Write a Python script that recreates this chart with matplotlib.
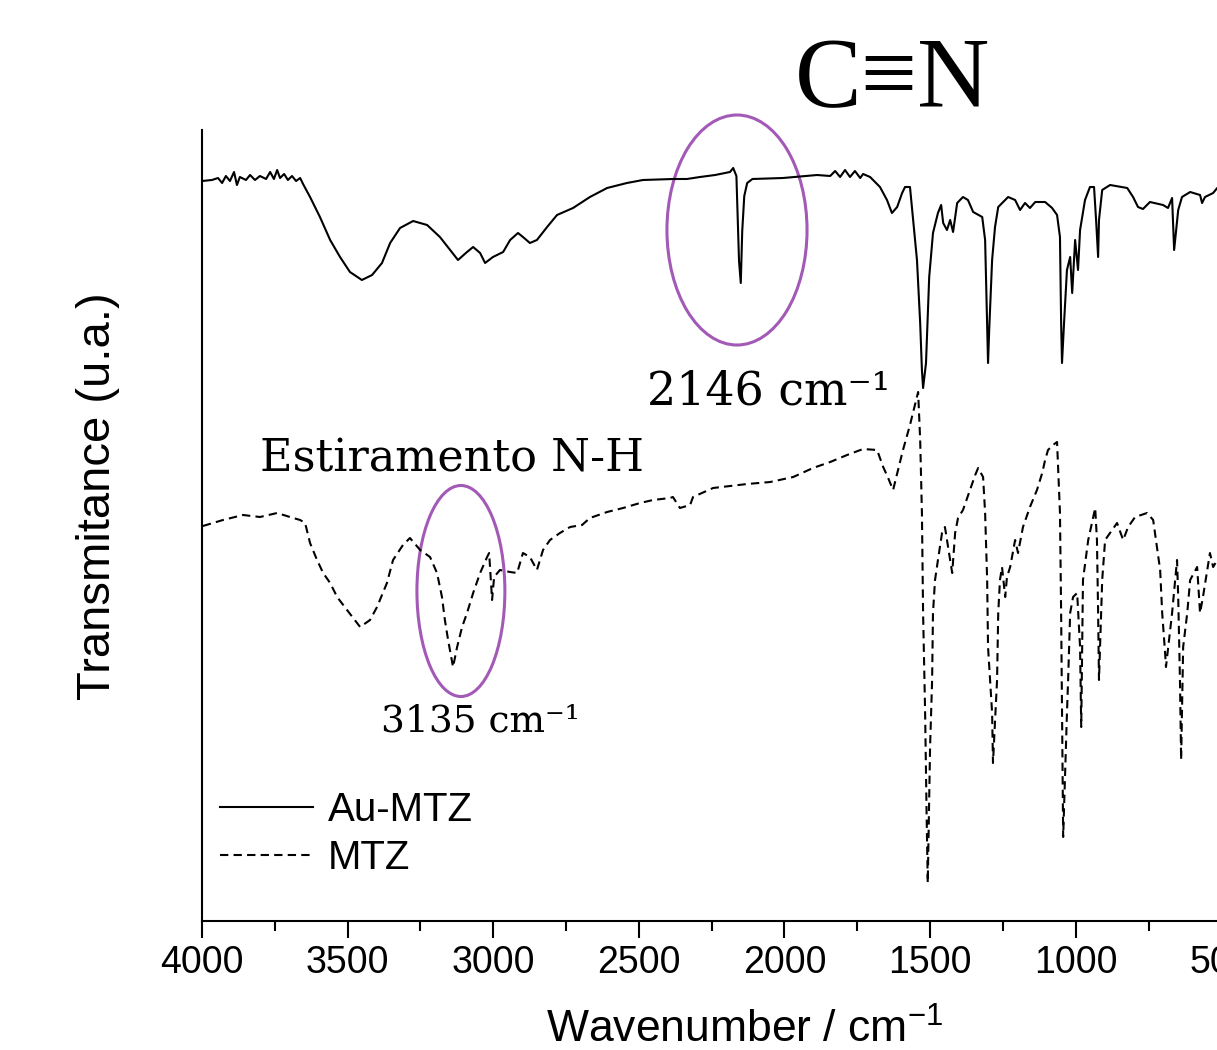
import numpy as np
import matplotlib
matplotlib.use("Agg")
import matplotlib.pyplot as plt
from matplotlib.patches import Ellipse

plt.rcParams['font.family'] = ['Liberation Sans', 'DejaVu Sans']
plt.rcParams['mathtext.default'] = 'regular'

# Au-MTZ spectrum (wavenumber / cm-1, transmittance a.u.)
wn_au = [4000, 3966, 3945, 3931, 3918, 3904, 3890, 3880, 3870, 3849, 3835, 3818,
         3801, 3780, 3766, 3753, 3742, 3732, 3718, 3705, 3691, 3677, 3663, 3653,
         3629, 3595, 3560, 3526, 3492, 3451, 3416, 3382, 3354, 3320, 3275, 3227,
         3183, 3148, 3121, 3090, 3069, 3045, 3028, 3001, 2966, 2942, 2915, 2898,
         2874, 2850, 2815, 2781, 2726, 2668, 2609, 2541, 2486, 2383, 2335, 2290,
         2238, 2187, 2176, 2165, 2156, 2150, 2145, 2138, 2128, 2110, 2005, 1888,
         1843, 1826, 1809, 1792, 1775, 1758, 1740, 1730, 1706, 1672, 1648, 1631,
         1613, 1596, 1586, 1569, 1558, 1545, 1534, 1528, 1524, 1514, 1503, 1490,
         1473, 1462, 1455, 1442, 1431, 1421, 1407, 1387, 1370, 1352, 1321, 1311,
         1304, 1301, 1297, 1287, 1277, 1266, 1232, 1208, 1191, 1174, 1157, 1139,
         1105, 1081, 1064, 1054, 1050, 1047, 1040, 1030, 1019, 1012, 1002, 992,
         985, 968, 951, 937, 930, 923, 920, 909, 882, 823, 803, 786, 769, 745,
         700, 683, 669, 662, 655, 648, 635, 607, 573, 566, 556, 528, 514, 480]
t_au = [74.0, 74.1, 74.3, 73.8, 74.5, 74.0, 74.9, 73.6, 74.4, 74.1, 74.6, 74.1,
        74.5, 74.2, 74.9, 74.2, 75.1, 74.3, 74.7, 74.1, 74.5, 74.0, 74.3, 73.7,
        72.4, 70.4, 68.1, 66.4, 64.9, 64.1, 64.6, 65.8, 67.8, 69.3, 70.0, 69.6,
        68.4, 67.1, 66.1, 66.9, 67.4, 66.8, 65.8, 66.4, 66.9, 68.1, 68.8, 68.4,
        67.8, 68.1, 69.4, 70.6, 71.3, 72.4, 73.3, 73.8, 74.1, 74.2, 74.2, 74.4,
        74.6, 74.9, 75.3, 74.5, 66.0, 63.8, 69.0, 72.5, 73.8, 74.2, 74.3, 74.6,
        74.5, 75.0, 74.4, 75.1, 74.4, 75.0, 74.3, 74.7, 74.4, 73.4, 72.1, 70.8,
        71.4, 72.8, 73.4, 73.4, 70.1, 66.1, 59.8, 55.1, 53.3, 55.8, 64.4, 68.8,
        70.8, 71.6, 69.8, 69.1, 70.1, 68.9, 71.8, 72.4, 72.1, 70.9, 70.4, 68.1,
        59.4, 55.8, 59.1, 66.1, 69.4, 71.4, 72.4, 72.1, 71.1, 71.8, 71.3, 71.9,
        71.9, 71.3, 70.6, 68.4, 59.8, 55.8, 59.8, 65.1, 66.4, 62.8, 68.1, 65.1,
        69.1, 72.1, 73.4, 73.4, 70.1, 66.4, 70.1, 73.1, 73.6, 73.3, 72.4, 71.4,
        71.2, 71.9, 71.6, 71.3, 72.3, 67.1, 69.1, 71.1, 72.4, 72.9, 72.6, 71.8,
        72.4, 72.8, 73.3, 73.0]

# MTZ spectrum
wn_mtz = [3997, 3928, 3859, 3801, 3742, 3698, 3663, 3646, 3629, 3605, 3584, 3560,
          3536, 3502, 3457, 3423, 3399, 3365, 3344, 3310, 3286, 3251, 3217, 3193,
          3176, 3166, 3155, 3138, 3124, 3107, 3090, 3069, 3045, 3021, 3014, 3004,
          2997, 2977, 2942, 2918, 2898, 2874, 2850, 2829, 2805, 2771, 2736, 2695,
          2668, 2609, 2554, 2496, 2451, 2393, 2383, 2359, 2324, 2314, 2245, 2128,
          2049, 1970, 1902, 1843, 1785, 1730, 1682, 1661, 1644, 1627, 1610, 1593,
          1569, 1552, 1541, 1534, 1528, 1524, 1517, 1512, 1508, 1500, 1493, 1490,
          1483, 1473, 1459, 1449, 1438, 1424, 1414, 1404, 1387, 1363, 1345, 1335,
          1318, 1311, 1304, 1301, 1287, 1284, 1270, 1266, 1260, 1253, 1242, 1236,
          1225, 1208, 1198, 1181, 1157, 1133, 1115, 1105, 1095, 1078, 1064, 1054,
          1050, 1047, 1043, 1030, 1026, 1019, 1009, 995, 985, 981, 975, 957,
          933, 927, 923, 920, 909, 899, 858, 837, 820, 796, 755, 734,
          721, 710, 703, 693, 690, 669, 652, 648, 642, 638, 631, 617,
          607, 583, 573, 563, 539, 528, 514, 480]
t_mtz = [39.5, 40.1, 40.6, 40.4, 40.8, 40.4, 40.1, 39.8, 37.8, 36.1, 34.8, 33.8,
         32.4, 31.1, 29.4, 30.1, 31.4, 33.8, 36.1, 37.6, 38.3, 37.1, 36.4, 34.8,
         32.4, 30.1, 28.1, 25.4, 27.4, 29.4, 30.8, 32.8, 34.8, 36.4, 36.8, 32.1,
         34.4, 35.1, 34.9, 34.8, 36.8, 36.4, 35.1, 37.1, 38.1, 38.8, 39.4, 39.6,
         40.3, 40.9, 41.3, 41.8, 42.1, 42.3, 42.4, 41.3, 41.6, 42.4, 43.3, 43.7,
         43.9, 44.4, 45.3, 45.9, 46.6, 47.2, 47.1, 45.4, 44.3, 43.1, 45.1, 47.1,
         49.6, 51.6, 52.9, 48.1, 40.8, 30.8, 20.8, 10.8, 3.8, 17.4, 24.1, 30.8,
         34.1, 36.1, 38.8, 39.4, 37.4, 34.8, 38.8, 40.3, 41.1, 43.1, 44.6, 45.3,
         44.4, 40.8, 34.1, 27.4, 20.8, 15.8, 24.1, 30.8, 34.1, 35.4, 32.4, 34.4,
         35.4, 38.1, 36.8, 39.4, 41.4, 43.1, 44.8, 46.1, 47.1, 47.6, 47.9, 40.8,
         30.8, 20.8, 8.4, 20.8, 24.1, 30.8, 32.4, 32.8, 27.4, 19.4, 34.1, 38.1,
         41.3, 38.1, 30.8, 24.1, 34.1, 38.1, 39.8, 38.1, 39.4, 40.4, 40.8, 40.1,
         37.4, 35.1, 30.8, 26.8, 25.4, 30.8, 36.1, 32.4, 24.1, 16.1, 27.4, 30.8,
         34.1, 35.4, 30.8, 32.4, 36.8, 35.4, 36.1, 36.0]

labels = ['Au-MTZ', 'MTZ']
purple = '#A35AB6'

fig = plt.figure(figsize=(12.17, 10.5), dpi=100)
ax = fig.add_axes([202/1217, 129/1050, 1086/1217, 791/1050])

ax.plot(wn_au, t_au, color='black', lw=1.5, label=labels[0])
ax.plot(wn_mtz, t_mtz, color='black', lw=1.5, linestyle=(0, (4, 2.5)), label=labels[1])

ax.set_xlim(4000, 271)
ax.set_ylim(0, 79.1)

for s in ['top', 'right']:
    ax.spines[s].set_visible(False)
for s in ['left', 'bottom']:
    ax.spines[s].set_linewidth(1.5)

ax.set_xticks([4000, 3500, 3000, 2500, 2000, 1500, 1000, 500])
ax.set_xticks(np.arange(3750, 300, -500), minor=True)
ax.set_yticks([])
ax.tick_params(axis='x', which='major', length=12, width=1.5, labelsize=27, pad=5)
ax.tick_params(axis='x', which='minor', length=7, width=1.5)

ax.set_xlabel('Wavenumber / cm$^{-1}$', fontsize=32, labelpad=20)
ax.set_ylabel('Transmitance (u.a.)', fontsize=34, va='center')
ax.yaxis.set_label_coords(-0.0958, 0.537)

# annotations
ax.add_patch(Ellipse((2163, 69.1), 481, 23.0, fill=False, ec=purple, lw=2.2, clip_on=False))
ax.add_patch(Ellipse((3111, 33.0), 302, 21.1, fill=False, ec=purple, lw=2.2, clip_on=False))

serif = ['DejaVu Serif']
ax.text(1630, 83.9, 'C\u2261N', fontsize=72, family=['Liberation Serif', 'DejaVu Serif'],
        ha='center', va='center', clip_on=False)
ax.text(2053, 52.9, '2146 cm\u207b\u00b9', fontsize=33, family=serif, ha='center', va='center')
ax.text(3141, 46.2, 'Estiramento N-H', fontsize=32, family=serif, ha='center', va='center')
ax.text(3045, 20.0, '3135 cm\u207b\u00b9', fontsize=27, family=serif, ha='center', va='center')

ax.legend(loc='lower left', bbox_to_anchor=(0.0166, 0.056), frameon=False,
          fontsize=29, handlelength=2.3, handletextpad=0.37, labelspacing=0.25,
          borderpad=0, borderaxespad=0)

fig.savefig('out.png', dpi=100)
